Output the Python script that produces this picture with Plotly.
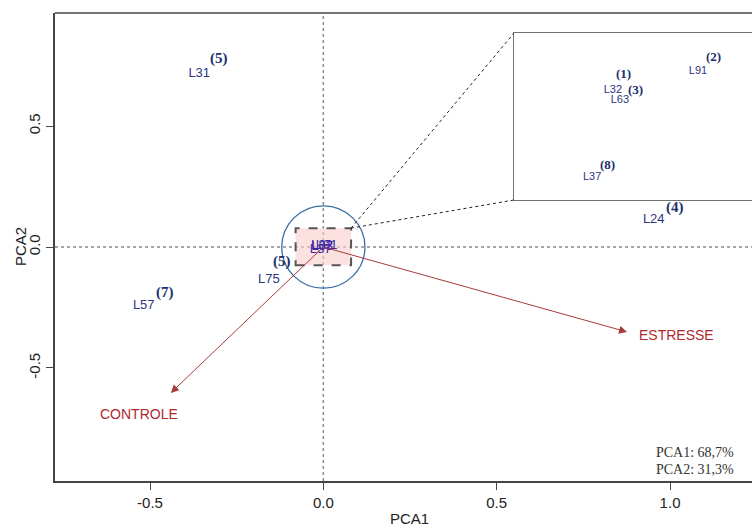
import plotly.graph_objects as go

# Genotype scores on the first two principal components
genotypes = ["L31", "L75", "L57", "L24"]
pc1 = [-0.358, -0.157, -0.518, 0.953]
pc2 = [0.715, -0.136, -0.244, 0.112]
counts = ["(5)", "(5)", "(7)", "(4)"]

# Genotypes clustered next to the origin (shown enlarged in the inset)
cluster_genotypes = ["L32", "L63", "L91", "L37"]
cluster_pc1 = [-0.0043, -0.0032, 0.0092, -0.0076]
cluster_pc2 = [0.0041, 0.0026, 0.0072, -0.0096]
cluster_counts = ["(1)", "(3)", "(2)", "(8)"]

# Environment loadings (arrows) and where their names are written
variables = ["CONTROLE", "ESTRESSE"]
load_pc1 = [-0.44, 0.876]
load_pc2 = [-0.603, -0.351]
var_label_pc1 = [-0.532, 1.02]
var_label_pc2 = [-0.69, -0.364]

variance_text = ["PCA1: 68,7%", "PCA2: 31,3%"]
tick_vals_x = [-0.5, 0.0, 0.5, 1.0]
tick_text_x = ["-0.5", "0.0", "0.5", "1.0"]
tick_vals_y = [-0.5, 0.0, 0.5]
tick_text_y = ["-0.5", "0.0", "0.5"]

W, H = 752, 528
ML, MR, MT, MB = 55, 0, 13, 47
XR = [-0.774, 1.2364]
YR = [-0.967, 0.967]

SANS = "Liberation Sans, Arial, sans-serif"
SERIF = "Liberation Serif, Times New Roman, serif"
LABEL_COL = "#2d3582"
NUM_COL = "#1b2f6e"
VAR_COL = "#b0282e"
ARROW_COL = "#a83c3c"
AXIS_COL = "#444444"

pw = W - ML - MR
ph = H - MT - MB


def to_paper(x, y):
    return ((x - XR[0]) / (XR[1] - XR[0]), (y - YR[0]) / (YR[1] - YR[0]))


def px_to_paper(px, py):
    return ((px - ML) / pw, (H - MB - py) / ph)


fig = go.Figure()

# Zoom box around the origin and the circle marking the cluster
zoom_x = [-0.08, 0.08]
zoom_y = [-0.075, 0.078]
shapes = [
    dict(type="line", xref="x", yref="paper", x0=0, x1=0, y0=0, y1=1,
         line=dict(color="#8a8a8a", width=1.5, dash="dot"), layer="below"),
    dict(type="line", xref="paper", yref="y", x0=0, x1=1, y0=0, y1=0,
         line=dict(color="#8a8a8a", width=1.5, dash="dot"), layer="below"),
    dict(type="rect", xref="x", yref="y", x0=zoom_x[0], x1=zoom_x[1],
         y0=zoom_y[0], y1=zoom_y[1], fillcolor="rgba(250,205,205,0.6)",
         line=dict(color="#555555", width=2, dash="dash"), layer="below"),
    dict(type="circle", xref="x", yref="y", x0=-0.12, x1=0.12, y0=-0.17, y1=0.17,
         line=dict(color="#3a6ea5", width=1.3)),
    # top frame line (left and bottom come from the axes)
    dict(type="line", xref="paper", yref="paper", x0=0, x1=1, y0=1, y1=1,
         line=dict(color=AXIS_COL, width=1.5)),
]

# Inset frame
ix0, iy1 = px_to_paper(514, 33)
ix1, iy0 = px_to_paper(752, 200)
shapes.append(dict(type="rect", xref="paper", yref="paper", x0=ix0, x1=1.05,
                   y0=iy0, y1=iy1, fillcolor="white",
                   line=dict(color=AXIS_COL, width=1.5), layer="below"))

# Leader lines from the zoom box to the inset corners
cx, cy = to_paper(zoom_x[1], zoom_y[1])
for ty in (iy1, iy0):
    shapes.append(dict(type="line", xref="paper", yref="paper", x0=cx, y0=cy,
                       x1=ix0, y1=ty, line=dict(color="#222222", width=1, dash="dot")))

# Main genotype labels
fig.add_trace(go.Scatter(x=pc1, y=pc2, text=genotypes, mode="text",
                         textposition="middle center",
                         textfont=dict(family=SANS, size=13, color=LABEL_COL),
                         hoverinfo="skip", xaxis="x", yaxis="y"))
fig.add_trace(go.Scatter(x=cluster_pc1, y=cluster_pc2, text=cluster_genotypes,
                         mode="text", textposition="middle center",
                         textfont=dict(family=SANS, size=13, color="#3a2aa8"),
                         hoverinfo="skip", xaxis="x", yaxis="y"))

# Inset: the same cluster, enlarged
fig.add_trace(go.Scatter(x=cluster_pc1, y=cluster_pc2, text=cluster_genotypes,
                         mode="text", textposition="middle center",
                         textfont=dict(family=SANS, size=11, color=LABEL_COL),
                         hoverinfo="skip", xaxis="x2", yaxis="y2"))

annotations = []
main_shift = [(20, 15), (13, 18), (21, 14), (21, 12)]
for x, y, c, (sx, sy) in zip(pc1, pc2, counts, main_shift):
    annotations.append(dict(x=x, y=y, xref="x", yref="y", text=c, showarrow=False,
                            xshift=sx, yshift=sy,
                            font=dict(family=SERIF, size=15, color=NUM_COL, weight="bold")))

inset_shift = [(11, 17), (16, 11), (16, 15), (15, 13)]
for x, y, c, (sx, sy) in zip(cluster_pc1, cluster_pc2, cluster_counts, inset_shift):
    annotations.append(dict(x=x, y=y, xref="x2", yref="y2", text=c, showarrow=False,
                            xshift=sx, yshift=sy,
                            font=dict(family=SERIF, size=13, color=NUM_COL, weight="bold")))

# Loading arrows
for lx, ly in zip(load_pc1, load_pc2):
    annotations.append(dict(x=lx, y=ly, ax=0, ay=0, xref="x", yref="y",
                            axref="x", ayref="y", text="", showarrow=True,
                            arrowhead=2, arrowsize=1.6, arrowwidth=1,
                            arrowcolor=ARROW_COL))
for name, lx, ly in zip(variables, var_label_pc1, var_label_pc2):
    annotations.append(dict(x=lx, y=ly, xref="x", yref="y", text=name, showarrow=False,
                            font=dict(family=SANS, size=14, color=VAR_COL)))

# Explained variance
for i, t in enumerate(variance_text):
    px_, py_ = px_to_paper(654, 452 + 17 * i)
    annotations.append(dict(x=px_, y=py_, xref="paper", yref="paper", text=t,
                            showarrow=False, xanchor="left", yanchor="middle",
                            font=dict(family=SERIF, size=14, color="#333333")))

# Axis titles
tx, ty = px_to_paper(409, 518)
annotations.append(dict(x=tx, y=ty, xref="paper", yref="paper", text="PCA1",
                        showarrow=False, xanchor="center", yanchor="middle",
                        borderpad=0,
                        font=dict(family=SANS, size=15, color="#222222")))
tx, ty = px_to_paper(20, 247)
annotations.append(dict(x=tx, y=ty, xref="paper", yref="paper", text="PCA2",
                        showarrow=False, textangle=-90, xanchor="center",
                        yanchor="middle",
                        font=dict(family=SANS, size=15, color="#222222")))

inset_xr = [-0.02, 0.01778]
inset_yr = [-0.01325, 0.01325]

fig.update_layout(
    width=W, height=H,
    margin=dict(l=ML, r=MR, t=MT, b=MB, pad=0),
    paper_bgcolor="white", plot_bgcolor="white",
    showlegend=False,
    xaxis=dict(range=XR, showgrid=False, zeroline=False, showline=True,
               linecolor=AXIS_COL, linewidth=1.5, ticks="outside", ticklen=7,
               tickcolor=AXIS_COL, tickwidth=1.2, tickvals=tick_vals_x,
               ticktext=tick_text_x, tickfont=dict(family=SANS, size=15, color="#222222")),
    yaxis=dict(range=YR, showgrid=False, zeroline=False, showline=True,
               linecolor=AXIS_COL, linewidth=1.5, ticks="outside", ticklen=7,
               tickcolor=AXIS_COL, tickwidth=1.2, tickvals=tick_vals_y,
               ticktext=tick_text_y, tickangle=-90,
               tickfont=dict(family=SANS, size=15, color="#222222")),
    xaxis2=dict(domain=[ix0, 1.0], range=inset_xr, visible=False, anchor="y2"),
    yaxis2=dict(domain=[iy0, iy1], range=inset_yr, visible=False, anchor="x2"),
    shapes=shapes,
    annotations=annotations,
)

fig.write_html("out.html")
